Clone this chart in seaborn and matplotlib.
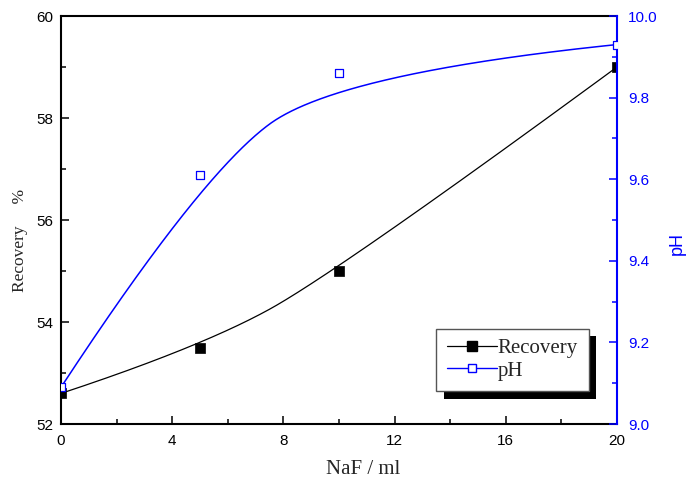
import numpy as np
import matplotlib
matplotlib.use("Agg")
import matplotlib.pyplot as plt
import seaborn as sns
from matplotlib.lines import Line2D
from matplotlib.patches import Rectangle
from matplotlib.ticker import MultipleLocator, FormatStrFormatter

# ---- data ----
naf_ml = [0, 5, 10, 20]
recovery_pct = [52.6, 53.5, 55.0, 59.0]
ph_values = [9.09, 9.61, 9.86, 9.93]

x_ticks = [0, 4, 8, 12, 16, 20]
rec_ticks = [52, 54, 56, 58, 60]
ph_ticks = [9.0, 9.2, 9.4, 9.6, 9.8, 10.0]

series_labels = ["Recovery", "pH"]


def bspline(xc, yc, deg=2, num=400):
    """Clamped uniform B-spline using the data points as control points
    (the 'B-Spline' connect style of the original plot)."""
    xc = np.asarray(xc, float)
    yc = np.asarray(yc, float)
    n = len(xc)
    inner = np.linspace(0, 1, n - deg + 1)
    knots = np.concatenate([[0.0] * deg, inner, [1.0] * deg])
    t = np.linspace(0, 1 - 1e-9, num)

    def basis(i, k):
        if k == 0:
            return np.where((knots[i] <= t) & (t < knots[i + 1]), 1.0, 0.0)
        out = np.zeros_like(t)
        d1 = knots[i + k] - knots[i]
        d2 = knots[i + k + 1] - knots[i + 1]
        if d1 > 0:
            out += (t - knots[i]) / d1 * basis(i, k - 1)
        if d2 > 0:
            out += (knots[i + k + 1] - t) / d2 * basis(i + 1, k - 1)
        return out

    B = np.array([basis(i, deg) for i in range(n)])
    return B.T @ xc, B.T @ yc


sns.set_style("ticks")
plt.rcParams["font.family"] = ["Liberation Sans", "DejaVu Sans"]
plt.rcParams["xtick.direction"] = "in"
plt.rcParams["ytick.direction"] = "in"

BLUE = "#0000ff"
W, H = 687, 478
fig = plt.figure(figsize=(W / 100, H / 100), dpi=100)
ax = fig.add_axes([61 / W, 1 - 424 / H, 556 / W, 408 / H])
ax2 = ax.twinx()

# ---- Recovery (left axis) ----
rx, ry = bspline(naf_ml, recovery_pct)
sns.lineplot(x=rx, y=ry, ax=ax, color="black", linewidth=0.9,
             sort=False, estimator=None, zorder=2)
sns.scatterplot(x=naf_ml, y=recovery_pct, ax=ax, marker="s", s=42,
                color="black", edgecolor="black", linewidth=0.5,
                zorder=3, legend=False)

# ---- pH (right axis) ----
px, py = bspline(naf_ml, ph_values)
sns.lineplot(x=px, y=py, ax=ax2, color=BLUE, linewidth=1.1,
             sort=False, estimator=None, zorder=2)
sns.scatterplot(x=naf_ml, y=ph_values, ax=ax2, marker="s", s=30,
                facecolor="white", edgecolor=BLUE, linewidth=0.9,
                zorder=3, legend=False)

# ---- axes limits & ticks ----
ax.set_xlim(x_ticks[0], x_ticks[-1])
ax.set_ylim(rec_ticks[0], rec_ticks[-1])
ax2.set_ylim(ph_ticks[0], ph_ticks[-1])
ax.set_xticks(x_ticks)
ax.set_yticks(rec_ticks)
ax2.set_yticks(ph_ticks)
ax.xaxis.set_minor_locator(MultipleLocator(2))
ax.yaxis.set_minor_locator(MultipleLocator(1))
ax2.yaxis.set_minor_locator(MultipleLocator(0.1))
ax2.yaxis.set_major_formatter(FormatStrFormatter("%.1f"))

ax.tick_params(axis="x", which="both", direction="in", top=False,
               labelsize=11, pad=7.5, width=1.1, colors="black")
ax.tick_params(axis="y", which="both", direction="in", right=False,
               labelsize=11, pad=5.5, width=1.1, colors="black")
ax.tick_params(which="major", length=6)
ax.tick_params(which="minor", length=3.5)
ax2.tick_params(axis="y", which="both", direction="in", labelsize=11,
                pad=8, width=1.1, colors=BLUE)
ax2.tick_params(which="major", length=6)
ax2.tick_params(which="minor", length=3.5)

for s in ["left", "bottom", "top"]:
    ax.spines[s].set_linewidth(1.5)
    ax.spines[s].set_color("black")
ax.spines["right"].set_visible(False)
for s in ["left", "bottom", "top"]:
    ax2.spines[s].set_visible(False)
ax2.spines["right"].set_linewidth(1.5)
ax2.spines["right"].set_color(BLUE)

# ---- axis labels ----
ax.set_xlabel("NaF / ml", family=["Liberation Serif", "DejaVu Serif"],
              fontsize=15, va="baseline", ha="center")
ax.xaxis.set_label_coords((363.5 - 61) / 556, (424 - 474.5) / 408)
ax.set_ylabel("Recovery     %", family=["Liberation Serif", "DejaVu Serif"],
              fontsize=12.5, va="center", ha="center")
ax.yaxis.set_label_coords((20 - 61) / 556, (424 - 240) / 408)
ax2.set_ylabel("pH", color=BLUE, fontsize=13, va="center", ha="center",
               rotation=90)
ax2.yaxis.set_label_coords((677 - 61) / 556, (424 - 243.5) / 408)

# ---- legend with solid drop shadow ----
handles = [
    Line2D([], [], color="black", linewidth=0.9, marker="s", markersize=6.5,
           markerfacecolor="black", markeredgecolor="black"),
    Line2D([], [], color=BLUE, linewidth=1.0, marker="s", markersize=5.5,
           markerfacecolor="white", markeredgecolor=BLUE),
]
leg = ax2.legend(handles, series_labels, loc="lower right",
                 bbox_to_anchor=((588.5 - 61) / 556, (424 - 391) / 408),
                 prop={"family": ["Liberation Serif", "DejaVu Serif"], "size": 15},
                 frameon=True, fancybox=False, framealpha=1, edgecolor="#555555",
                 handlelength=2.4, handletextpad=0.05, borderpad=0.5,
                 labelspacing=0.12, borderaxespad=0, numpoints=1)
leg.get_frame().set_linewidth(1.0)
leg.set_zorder(10)

fig.canvas.draw()
bb = leg.get_window_extent().transformed(fig.transFigure.inverted())
dx, dy = 7.5 / W, 7.5 / H
shadow = Rectangle((bb.x0 + dx, bb.y0 - dy), bb.width, bb.height,
                   transform=fig.transFigure, facecolor="black",
                   edgecolor="none", zorder=9, clip_on=False)
ax2.add_patch(shadow)

fig.savefig("out.png", dpi=100)
